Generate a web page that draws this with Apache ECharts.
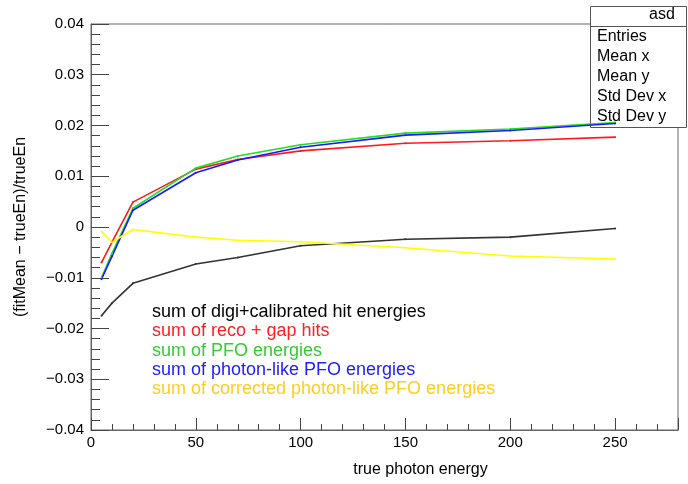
<!DOCTYPE html>
<html><head><meta charset="utf-8">
<script src="https://cdn.jsdelivr.net/npm/echarts@6/dist/echarts.min.js"></script>
<style>html,body{margin:0;padding:0;background:#fff}#c{width:688px;height:484px}</style>
</head><body><div id="c"></div>
<script>
const energies = [5, 10, 20, 50, 70, 100, 150, 200, 250];
const seriesNames = [
  'sum of digi+calibrated hit energies',
  'sum of reco + gap hits',
  'sum of PFO energies',
  'sum of photon-like PFO energies',
  'sum of corrected photon-like PFO energies'
];
const digiCalib   = [-0.0175, -0.0150, -0.0111, -0.0073, -0.0060, -0.0037, -0.0024, -0.0020, -0.0003];
const recoGap     = [-0.0070, -0.0030, 0.0049, 0.0114, 0.0133, 0.0150, 0.0165, 0.0170, 0.0177];
const pfo         = [-0.0100, -0.0052, 0.0037, 0.0116, 0.0140, 0.0162, 0.0185, 0.0193, 0.0206];
const photonPfo   = [-0.0103, -0.0058, 0.0033, 0.0107, 0.0132, 0.0157, 0.0181, 0.0190, 0.0204];
const corrPhoton  = [-0.0009, -0.0030, -0.0005, -0.0020, -0.0026, -0.0029, -0.0041, -0.0057, -0.0063];
const statsLabels = ['Entries', 'Mean x', 'Mean y', 'Std Dev x', 'Std Dev y'];
const statsTitle = 'asd';

const allValues = [digiCalib, recoGap, pfo, photonPfo, corrPhoton];
const lineColors = ['#333333', '#ff1a1a', '#22dd22', '#1a1aff', '#ffff00'];
const textColors = ['#000000', '#ff2020', '#33cc33', '#2020ff', '#ffcc22'];
const FONT = 'Liberation Sans, Arial, sans-serif';
const frameColor = '#666';

const chart = echarts.init(document.getElementById('c'), null, {renderer: 'canvas'});

const grid = {left: 91, right: 10, top: 24, bottom: 54, show: true, borderColor: frameColor, borderWidth: 1, backgroundColor: 'transparent', containLabel: false};

function yFmt(v) {
  if (Math.abs(v) < 1e-9) return '0';
  const s = Math.abs(v).toFixed(2);
  return (v < 0 ? '\u2212' : '') + s;
}

const option = {
  animation: false,
  backgroundColor: '#fff',
  grid: grid,
  xAxis: [
    {
      type: 'value', min: 0, max: 280, interval: 50,
      axisLine: {show: true, onZero: false, lineStyle: {color: frameColor, width: 1}},
      axisTick: {show: true, inside: true, length: 12, lineStyle: {color: '#444'}},
      splitLine: {show: false},
      axisLabel: {show: true, margin: 5, color: '#000', fontFamily: FONT, fontSize: 15,
        formatter: v => (Math.round(v) % 50 === 0 ? String(Math.round(v)) : '')},
      name: 'true photon energy', nameLocation: 'middle', nameGap: 32,
      nameTextStyle: {color: '#000', fontFamily: FONT, fontSize: 16, padding: [0, 0, 0, 72]}
    },
    {
      type: 'value', min: 0, max: 280, interval: 10, position: 'bottom',
      axisLine: {show: false, onZero: false},
      axisTick: {show: true, inside: true, length: 6, lineStyle: {color: '#444'}},
      splitLine: {show: false},
      axisLabel: {show: false}
    }
  ],
  yAxis: [
    {
      type: 'value', min: -0.04, max: 0.04, interval: 0.01,
      axisLine: {show: true, onZero: false, lineStyle: {color: frameColor, width: 1}},
      axisTick: {show: true, inside: true, length: 18, lineStyle: {color: '#444'}},
      splitLine: {show: false},
      axisLabel: {show: true, margin: 7, color: '#000', fontFamily: FONT, fontSize: 15, formatter: yFmt},
      name: '(fitMean \u2212 trueEn)/trueEn', nameLocation: 'middle', nameGap: 62,
      nameTextStyle: {color: '#000', fontFamily: FONT, fontSize: 16}
    },
    {
      type: 'value', min: -0.04, max: 0.04, interval: 0.002, position: 'left',
      axisLine: {show: false, onZero: false},
      axisTick: {show: true, inside: true, length: 9, lineStyle: {color: '#444'}},
      splitLine: {show: false},
      axisLabel: {show: false}
    }
  ],
  legend: {
    orient: 'vertical', left: 142, top: 298,
    itemWidth: 0, itemHeight: 14, itemGap: 1.3, icon: 'rect',
    selectedMode: false,
    textStyle: {fontFamily: FONT, fontSize: 18},
    data: seriesNames.map((n, i) => ({name: n, textStyle: {color: textColors[i]}}))
  },
  graphic: [
    {type: 'rect', z: 1, shape: {x: 590.5, y: 6.5, width: 96, height: 121},
      style: {fill: '#fff', stroke: '#555', lineWidth: 1}},
    {type: 'line', z: 1, shape: {x1: 590.5, y1: 26.5, x2: 686.5, y2: 26.5},
      style: {stroke: '#555', lineWidth: 1}},
    {type: 'text', z: 1, left: 649, top: 7,
      style: {text: statsTitle, fill: '#000', font: '16px ' + FONT, textAlign: 'center'}},
    ...statsLabels.map((t, i) => ({type: 'text', z: 1, left: 597, top: 29 + i * 19.8,
      style: {text: t, fill: '#000', font: '16px ' + FONT}}))
  ],
  series: allValues.map((vals, i) => ({
    name: seriesNames[i], type: 'line', z: 3,
    xAxisIndex: 0, yAxisIndex: 0,
    data: energies.map((e, k) => [e, vals[k]]),
    showSymbol: true, symbol: 'circle', symbolSize: 2,
    itemStyle: {color: lineColors[i]},
    lineStyle: {color: lineColors[i], width: 1.6},
    emphasis: {disabled: true}
  }))
};
chart.setOption(option);
</script></body></html>
